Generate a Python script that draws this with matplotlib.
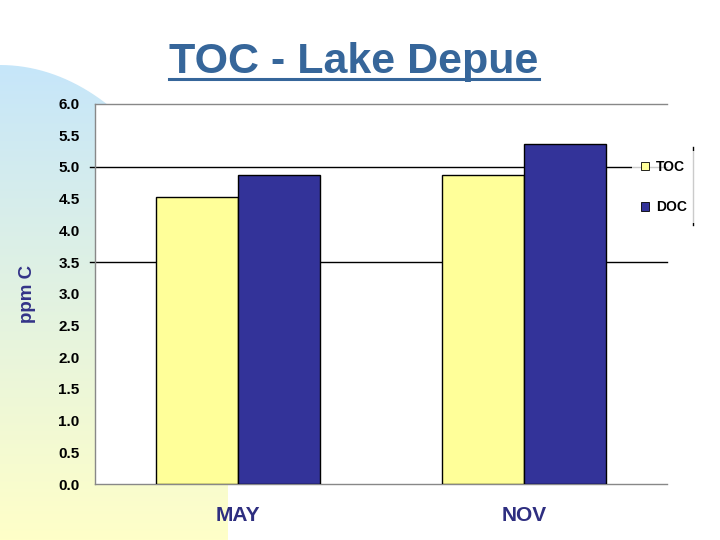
import numpy as np
import matplotlib
matplotlib.use("Agg")
import matplotlib.pyplot as plt
from matplotlib.patches import PathPatch
from matplotlib.path import Path
from matplotlib.lines import Line2D

plt.rcParams['font.family'] = ['Liberation Sans', 'DejaVu Sans']

# ---- data ----
months = ["MAY", "NOV"]
toc = [4.53, 4.87]
doc = [4.88, 5.36]
series_names = ["TOC", "DOC"]
yticks = [0.0, 0.5, 1.0, 1.5, 2.0, 2.5, 3.0, 3.5, 4.0, 4.5, 5.0, 5.5, 6.0]
ref_lines = [5.0, 3.5]
title = "TOC - Lake Depue"
ylabel = "ppm C"

W, H = 720, 540
fig = plt.figure(figsize=(7.2, 5.4), dpi=100)
fig.patch.set_facecolor('white')

# ---- background decoration (slide gradient strip) ----
bg = fig.add_axes([0, 0, 1, 1], zorder=0)
bg.set_xlim(0, W)
bg.set_ylim(H, 0)
bg.axis('off')
grad = np.linspace(0, 1, 256)[:, None]
top_c = np.array([198, 230, 250]) / 255.0
bot_c = np.array([255, 255, 200]) / 255.0
img = top_c[None, None, :] * (1 - grad[:, :, None]) + bot_c[None, None, :] * grad[:, :, None]
img = np.repeat(img, 2, axis=1)
im = bg.imshow(img, extent=[0, 228, H, 65], aspect='auto', zorder=0)
cx, cy, a, b = 0.0, 400.0, 228.0, 335.0
t = np.linspace(np.pi / 2, 0, 60)
ex = cx + a * np.cos(t)
ey = cy - b * np.sin(t)
verts = [(0, H)] + [(0, 65)] + list(zip(ex, ey)) + [(228, H), (0, H)]
codes = [Path.MOVETO] + [Path.LINETO] * (len(verts) - 2) + [Path.CLOSEPOLY]
clip = PathPatch(Path(verts, codes), transform=bg.transData, facecolor='none', edgecolor='none')
bg.add_patch(clip)
im.set_clip_path(clip)

# ---- main axes ----
L, R, T, B = 95, 667, 103.5, 484
ax = fig.add_axes([L / W, 1 - B / H, (R - L) / W, (B - T) / H], zorder=2)
ax.set_facecolor('white')

x = np.arange(len(months))
bw = 0.287
b1 = ax.bar(x - bw / 2, toc, bw, color='#ffff99', edgecolor='black', linewidth=1.0,
            label=series_names[0], zorder=3)
b2 = ax.bar(x + bw / 2, doc, bw, color='#333399', edgecolor='black', linewidth=1.0,
            label=series_names[1], zorder=3)

ax.set_xlim(-0.5, len(months) - 0.5)
ax.set_ylim(0, 6.0)
ax.set_yticks(yticks)
ax.set_yticklabels([f"{v:.1f}" for v in yticks], fontsize=11, fontweight='bold')
ax.set_xticks(x)
ax.set_xticklabels(months, fontsize=15, fontweight='bold', color='#2e2e80')
ax.tick_params(axis='y', length=0, pad=11)
ax.tick_params(axis='x', length=0, pad=16)

for s in ['left', 'top', 'bottom']:
    ax.spines[s].set_color('#888888')
    ax.spines[s].set_linewidth(1.0)
ax.spines['right'].set_visible(False)

ext = 5.0 / (R - L)
for v in ref_lines:
    ax.plot([-ext, 1], [v, v], transform=ax.get_yaxis_transform(), color='black',
            linewidth=1.0, clip_on=False, zorder=2)

leg = ax.legend(handles=[b1, b2], loc='center left',
                bbox_to_anchor=(632 / W, 1 - 187 / H), bbox_transform=fig.transFigure,
                borderaxespad=0, borderpad=0.65, frameon=True, fancybox=False,
                handlelength=0.6, handleheight=0.6, handletextpad=0.5,
                labelspacing=1.9, prop={'weight': 'bold', 'size': 10})
leg.get_frame().set_facecolor('white')
leg.get_frame().set_edgecolor('none')
leg.set_zorder(5)
for h in leg.legend_handles:
    h.set_linewidth(0.6)
fig.add_artist(Line2D([693 / W, 693 / W], [1 - 147 / H, 1 - 225 / H], color='black',
                      linewidth=1.0, transform=fig.transFigure))

fig.text(28 / W, 1 - 294 / H, ylabel, rotation=90, ha='center', va='center',
         fontsize=13.5, fontweight='bold', color='#333388')

tt = fig.text(354 / W, 1 - 73 / H, title, ha='center', va='baseline',
              fontsize=31, fontweight='bold', color='#36669a')
fig.canvas.draw()
bb = tt.get_window_extent()
uy = 1 - 78.5 / H
fig.add_artist(Line2D([bb.x0 / W, bb.x1 / W], [uy, uy], color='#36669a', linewidth=2.2,
                      transform=fig.transFigure))

fig.savefig("out.png", dpi=100)
